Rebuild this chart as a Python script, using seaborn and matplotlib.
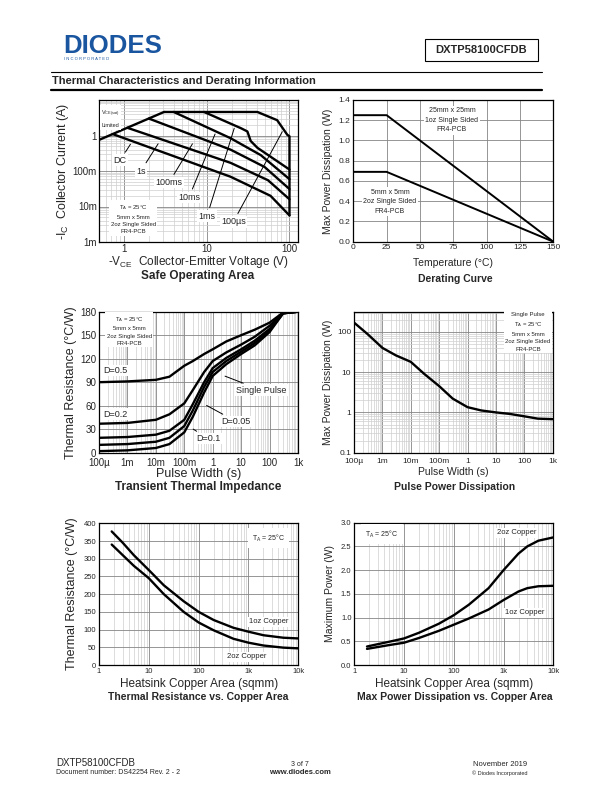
import matplotlib
matplotlib.use("Agg")
import matplotlib.pyplot as plt
from matplotlib.lines import Line2D
from matplotlib.patches import Rectangle
import seaborn as sns

# ---- Safe Operating Area (V, A) ----
soa_limit_v = [0.5, 3.05]
soa_limit_i = [0.75, 4.6]
soa_100us_v = [3.05, 41, 71, 94, 100, 100]
soa_100us_i = [4.6, 4.6, 2.7, 1.05, 0.95, 0.0056]
soa_1ms_v = [9.3, 26, 31, 34, 41, 100]
soa_1ms_i = [4.6, 1.6, 1.3, 0.7, 0.45, 0.11]
soa_10ms_v = [4.0, 19.4, 45, 100]
soa_10ms_i = [4.6, 0.84, 0.28, 0.059]
soa_100ms_v = [2.0, 19.4, 50, 100]
soa_100ms_i = [3.0, 0.40, 0.13, 0.031]
soa_1s_v = [1.1, 19.4, 55, 100]
soa_1s_i = [1.65, 0.17, 0.055, 0.016]
soa_dc_v = [0.73, 19.4, 59, 100]
soa_dc_i = [1.1, 0.069, 0.02, 0.0056]

# ---- Derating curve ----
der_temp = [0, 25, 150]
der_25mm = [1.25, 1.25, 0.0]
der_5mm = [0.69, 0.69, 0.0]

# ---- Transient thermal impedance ----
tti_t = [1e-4, 1e-3, 1e-2, 3e-2, 0.1, 0.2, 0.5, 1, 3, 10, 30, 100, 300, 1000]
tti_d05 = [90, 91, 93, 97, 111, 117, 126, 132, 142, 150, 157, 166, 179, 180]
tti_d02 = [37, 38, 42, 49, 63, 80, 103, 117, 128, 138, 148, 162, 178, 180]
tti_d01 = [19, 20, 23, 28, 42, 62, 90, 108, 121, 132, 143, 158, 178, 180]
tti_d005 = [10, 11, 14, 19, 34, 54, 84, 103, 117, 129, 140, 156, 178, 180]
tti_single = [2, 3, 6, 11, 26, 46, 77, 98, 113, 126, 137, 154, 178, 180]

# ---- Pulse power dissipation ----
ppd_t = [1e-4, 3e-4, 1e-3, 3e-3, 1e-2, 3e-2, 0.1, 0.3, 1, 3, 10, 30, 100, 300, 1000]
ppd_w = [170, 88, 40, 26, 18, 9, 4.5, 2.2, 1.35, 1.12, 1.0, 0.92, 0.8, 0.7, 0.68]

# ---- Thermal resistance vs copper area ----
cu_area = [1.8, 3, 5, 10, 20, 50, 100, 200, 500, 1000, 2000, 5000, 10000]
rth_1oz = [377, 345, 310, 268, 225, 180, 150, 127, 105, 94, 84, 77, 75]
rth_2oz = [340, 310, 280, 245, 200, 150, 120, 98, 74, 63, 55, 49, 47]

# ---- Max power vs copper area ----
pw_area = [1.8, 3, 5, 10, 20, 50, 100, 200, 500, 1000, 2000, 3000, 5000, 10000]
pw_2oz = [0.39, 0.44, 0.49, 0.56, 0.68, 0.87, 1.05, 1.27, 1.62, 2.0, 2.35, 2.5, 2.62, 2.69]
pw_1oz = [0.34, 0.38, 0.42, 0.47, 0.57, 0.72, 0.85, 0.98, 1.17, 1.37, 1.55, 1.62, 1.66, 1.67]

sns.set_style("white")
plt.rcParams['font.family'] = ['Liberation Sans', 'DejaVu Sans']
plt.rcParams['mathtext.fontset'] = 'custom'
plt.rcParams['mathtext.rm'] = 'Liberation Sans'
plt.rcParams['mathtext.it'] = 'Liberation Sans:italic'
plt.rcParams['mathtext.bf'] = 'Liberation Sans:bold'

W, H = 612, 792
fig = plt.figure(figsize=(W / 100, H / 100), dpi=100)


def frame(l, t, r, b):
    return fig.add_axes([l / W, 1 - b / H, (r - l) / W, (b - t) / H])


def fx(x):
    return x / W


def fy(y):
    return 1 - y / H


def curve(ax, x, y, lw=1.7):
    sns.lineplot(x=x, y=y, ax=ax, color='black', lw=lw, estimator=None,
                 sort=False, legend=False)


def style(ax, minor=True):
    ax.grid(True, which='major', color='#858585', lw=0.6)
    if minor:
        ax.grid(True, which='minor', color='#cfcfcf', lw=0.5)
    ax.tick_params(which='both', length=0, labelsize=6, pad=2)
    for s in ax.spines.values():
        s.set_color('black')
        s.set_linewidth(0.9)
    ax.set_axisbelow(True)


note = dict(fc='white', ec='none', pad=1.0)
ptr = dict(arrowstyle='-', color='black', lw=0.7)

# ================= Safe Operating Area =================
ax1 = frame(99, 100, 297.5, 242)
ax1.set_xscale('log')
ax1.set_yscale('log')
for v, i in [(soa_limit_v, soa_limit_i), (soa_100us_v, soa_100us_i),
             (soa_1ms_v, soa_1ms_i), (soa_10ms_v, soa_10ms_i),
             (soa_100ms_v, soa_100ms_i), (soa_1s_v, soa_1s_i),
             (soa_dc_v, soa_dc_i)]:
    curve(ax1, v, i)
ax1.set_xlim(0.5, 125)
ax1.set_ylim(1e-3, 10)
ax1.set_xticks([1, 10, 100], ['1', '10', '100'])
ax1.set_yticks([1e-3, 1e-2, 1e-1, 1], ['1m', '10m', '100m', '1'])
style(ax1)
ax1.tick_params(labelsize=7, pad=1.5)
ax1.set_xlabel(r'-V$_{\rm CE}$  Collector-Emitter Voltage (V)', fontsize=8.5, labelpad=0)
ax1.set_ylabel(r'-I$_{\rm C}$  Collector Current (A)', fontsize=9, labelpad=1)
ax1.text(0.53, 5.5, 'V$_{\\rm CE(sat)}$\nLimited', fontsize=4, va='top', ha='left',
         linespacing=2.0, bbox=note)
ax1.annotate('DC', xy=(1.25, 0.66), xytext=(0.9, 0.2), fontsize=6.5,
             ha='center', va='center', arrowprops=ptr, bbox=note)
ax1.annotate('1s', xy=(2.7, 0.68), xytext=(1.6, 0.1), fontsize=6.5,
             ha='center', va='center', arrowprops=ptr, bbox=note)
ax1.annotate('100ms', xy=(7, 0.68), xytext=(3.5, 0.047), fontsize=6.5,
             ha='center', va='center', arrowprops=ptr, bbox=note)
ax1.annotate('10ms', xy=(13, 1.3), xytext=(6.1, 0.018), fontsize=6.5,
             ha='center', va='center', arrowprops=ptr, bbox=note)
ax1.annotate('1ms', xy=(22, 1.9), xytext=(10.1, 0.0054), fontsize=6.5,
             ha='center', va='center', arrowprops=ptr, bbox=note)
ax1.annotate('100µs', xy=(85, 1.5), xytext=(21, 0.0037), fontsize=6.5,
             ha='center', va='center', arrowprops=ptr, bbox=note)
ax1.text(1.3, 0.0045, 'T$_{\\rm A}$ = 25°C\n5mm x 5mm\n2oz Single Sided\nFR4-PCB',
         fontsize=4.3, ha='center', va='center', linespacing=1.6, bbox=note)
fig.text(fx(198), fy(276.5), 'Safe Operating Area', fontsize=8.5, weight='bold',
         ha='center', va='center')

# ================= Derating Curve =================
ax2 = frame(353.3, 100, 553.3, 241.7)
curve(ax2, der_temp, der_25mm, lw=1.4)
curve(ax2, der_temp, der_5mm, lw=1.4)
ax2.set_xlim(0, 150)
ax2.set_ylim(0, 1.4)
ax2.set_xticks(range(0, 151, 25))
ax2.set_yticks([k / 5 for k in range(8)], ['%.1f' % (k / 5) for k in range(8)])
style(ax2, minor=False)
ax2.set_xlabel('Temperature (°C)', fontsize=7.5, labelpad=5)
ax2.set_ylabel('Max Power Dissipation (W)', fontsize=7.5, labelpad=4)
ax2.text(74, 1.2, '25mm x 25mm\n1oz Single Sided\nFR4-PCB', fontsize=5,
         ha='center', va='center', linespacing=1.5, bbox=note)
ax2.text(27.5, 0.395, '5mm x 5mm\n2oz Single Sided\nFR4-PCB', fontsize=5,
         ha='center', va='center', linespacing=1.5, bbox=note)
fig.text(fx(455), fy(279), 'Derating Curve', fontsize=7.5, weight='bold',
         ha='center', va='center')

# ================= Transient Thermal Impedance =================
ax3 = frame(99, 311.7, 298, 452.7)
ax3.set_xscale('log')
for d in [tti_d05, tti_d02, tti_d01, tti_d005, tti_single]:
    curve(ax3, tti_t, d)
ax3.set_xlim(1e-4, 1e3)
ax3.set_ylim(0, 180)
ax3.set_xticks([1e-4, 1e-3, 1e-2, 1e-1, 1, 10, 100, 1000],
               ['100µ', '1m', '10m', '100m', '1', '10', '100', '1k'])
ax3.set_yticks(range(0, 181, 30))
style(ax3)
ax3.tick_params(labelsize=7)
ax3.tick_params(axis='x', pad=3.5)
ax3.set_xlabel('Pulse Width (s)', fontsize=9, labelpad=0)
ax3.set_ylabel('Thermal Resistance (°C/W)', fontsize=9, labelpad=2)
ax3.text(1.15e-3, 156, 'T$_{\\rm A}$ = 25°C\n5mm x 5mm\n2oz Single Sided\nFR4-PCB',
         fontsize=4.3, ha='center', va='center', linespacing=1.6, bbox=note)
ax3.text(3.7e-4, 105, 'D=0.5', fontsize=6.5, ha='center', va='center', bbox=note)
ax3.text(3.7e-4, 49, 'D=0.2', fontsize=6.5, ha='center', va='center', bbox=note)
ax3.annotate('Single Pulse', xy=(2.2, 99), xytext=(50, 80), fontsize=6.5,
             ha='center', va='center', arrowprops=ptr, bbox=note)
ax3.annotate('D=0.05', xy=(0.5, 62), xytext=(6.6, 40), fontsize=6.5,
             ha='center', va='center', arrowprops=ptr, bbox=note)
ax3.annotate('D=0.1', xy=(0.17, 32), xytext=(0.7, 18), fontsize=6.5,
             ha='center', va='center', arrowprops=ptr, bbox=note)
fig.text(fx(198), fy(487), 'Transient Thermal Impedance', fontsize=8.5,
         weight='bold', ha='center', va='center')

# ================= Pulse Power Dissipation =================
ax4 = frame(354, 311.7, 552.7, 452.7)
ax4.set_xscale('log')
ax4.set_yscale('log')
curve(ax4, ppd_t, ppd_w)
ax4.set_xlim(1e-4, 1e3)
ax4.set_ylim(0.1, 316)
ax4.set_xticks([1e-4, 1e-3, 1e-2, 1e-1, 1, 10, 100, 1000],
               ['100µ', '1m', '10m', '100m', '1', '10', '100', '1k'])
ax4.set_yticks([0.1, 1, 10, 100], ['0.1', '1', '10', '100'])
style(ax4)
ax4.tick_params(axis='x', pad=3.5)
ax4.set_xlabel('Pulse Width (s)', fontsize=7.5, labelpad=2)
ax4.set_ylabel('Max Power Dissipation (W)', fontsize=7.5, labelpad=3)
ax4.text(135, 100, 'Single Pulse\nT$_{\\rm A}$ = 25°C\n5mm x 5mm\n2oz Single Sided\nFR4-PCB',
         fontsize=4.3, ha='center', va='center', linespacing=1.6, bbox=note)
fig.text(fx(455), fy(487), 'Pulse Power Dissipation', fontsize=7.5,
         weight='bold', ha='center', va='center')

# ================= Thermal Resistance vs Copper Area =================
ax5 = frame(99, 523.3, 298.3, 665)
ax5.set_xscale('log')
curve(ax5, cu_area, rth_1oz)
curve(ax5, cu_area, rth_2oz)
ax5.set_xlim(1, 1e4)
ax5.set_ylim(0, 400)
ax5.set_xticks([1, 10, 100, 1000, 10000], ['1', '10', '100', '1k', '10k'])
ax5.set_yticks(range(0, 401, 50))
style(ax5)
ax5.tick_params(labelsize=5.5)
ax5.set_xlabel('Heatsink Copper Area (sqmm)', fontsize=8.5, labelpad=2)
ax5.set_ylabel('Thermal Resistance (°C/W)', fontsize=9, labelpad=4)
ax5.text(2500, 358, 'T$_{\\rm A}$ = 25°C', fontsize=5, ha='center', va='center',
         bbox=dict(fc='white', ec='none', pad=3))
ax5.text(2500, 122, '1oz Copper', fontsize=5.5, ha='center', va='center', bbox=note)
ax5.text(930, 23, '2oz Copper', fontsize=5.5, ha='center', va='center', bbox=note)
fig.text(fx(198), fy(697), 'Thermal Resistance vs. Copper Area', fontsize=7.5,
         weight='bold', ha='center', va='center')

# ================= Max Power vs Copper Area =================
ax6 = frame(354.3, 522.7, 553.3, 665)
ax6.set_xscale('log')
curve(ax6, pw_area, pw_2oz)
curve(ax6, pw_area, pw_1oz)
ax6.set_xlim(1, 1e4)
ax6.set_ylim(0, 3.0)
ax6.set_xticks([1, 10, 100, 1000, 10000], ['1', '10', '100', '1k', '10k'])
ax6.set_yticks([k / 2 for k in range(7)], ['%.1f' % (k / 2) for k in range(7)])
style(ax6)
ax6.tick_params(labelsize=5.5)
ax6.set_xlabel('Heatsink Copper Area (sqmm)', fontsize=8.5, labelpad=2)
ax6.set_ylabel('Maximum Power (W)', fontsize=7.5, labelpad=4)
ax6.text(3.6, 2.76, 'T$_{\\rm A}$ = 25°C', fontsize=5, ha='center', va='center',
         bbox=dict(fc='white', ec='none', pad=3))
ax6.text(1850, 2.79, '2oz Copper', fontsize=5.5, ha='center', va='center', bbox=note)
ax6.text(2700, 1.1, '1oz Copper', fontsize=5.5, ha='center', va='center', bbox=note)
fig.text(fx(455), fy(697), 'Max Power Dissipation vs. Copper Area', fontsize=7.5,
         weight='bold', ha='center', va='center')

# ================= Page header / footer =================
fig.text(fx(63), fy(46), 'DIODES', fontsize=18.5, weight='heavy', color='#1a55a0',
         ha='left', va='center')
fig.text(fx(64), fy(58.5), 'I N C O R P O R A T E D', fontsize=3, color='#1a55a0',
         ha='left', va='center')
fig.add_artist(Rectangle((fx(425), fy(60.7)), fx(538) - fx(425), fy(39) - fy(60.7),
                         transform=fig.transFigure, fill=False, ec='black', lw=0.8))
fig.text(fx(481.5), fy(50), 'DXTP58100CFDB', fontsize=8, weight='bold',
         ha='center', va='center')
fig.add_artist(Line2D([fx(50.7), fx(541.7)], [fy(72.3), fy(72.3)],
                      transform=fig.transFigure, color='black', lw=0.8))
fig.text(fx(52), fy(81), 'Thermal Characteristics and Derating Information',
         fontsize=8, weight='bold', ha='left', va='center')
fig.add_artist(Line2D([fx(50.7), fx(541.7)], [fy(89.5), fy(89.5)],
                      transform=fig.transFigure, color='black', lw=1.6))

fig.text(fx(56), fy(763), 'DXTP58100CFDB', fontsize=7, ha='left', va='center')
fig.text(fx(56), fy(773), 'Document number: DS42254 Rev. 2 - 2', fontsize=5,
         ha='left', va='center')
fig.text(fx(300), fy(764), '3 of 7', fontsize=5, ha='center', va='center')
fig.text(fx(300), fy(773), 'www.diodes.com', fontsize=5.5, weight='bold',
         ha='center', va='center')
fig.text(fx(527), fy(764), 'November 2019', fontsize=5.5, ha='right', va='center')
fig.text(fx(527), fy(773), '© Diodes Incorporated', fontsize=4, ha='right', va='center')

fig.savefig('out.png', dpi=100)
